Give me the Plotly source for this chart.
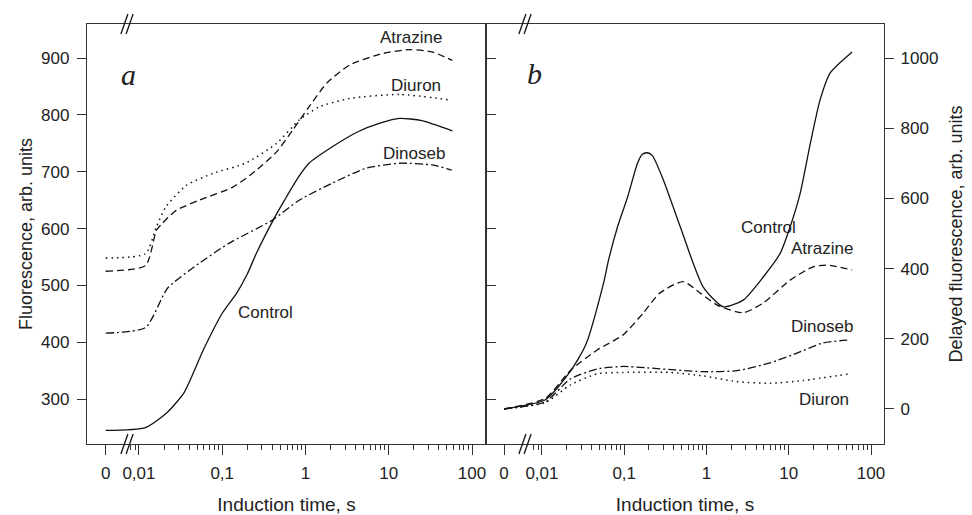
import plotly.graph_objects as go

# ---------------- data ----------------
# panel a: prompt fluorescence (t in s, 0 = start of illumination)
a_control_t = [0, 0.012, 0.022, 0.035, 0.06, 0.1, 0.15, 0.2, 0.26, 0.41, 0.56, 0.8, 1.1, 2.1, 4.2, 8, 13.5, 25, 58]
a_control_v = [245, 250, 277, 312, 388, 451, 487, 520, 558, 615, 650, 688, 715, 744, 770, 786, 794, 790, 772]
a_atrazine_t = [0, 0.012, 0.0162, 0.019, 0.028, 0.053, 0.134, 0.23, 0.45, 0.7, 1.1, 1.8, 3.4, 8.4, 17.6, 33, 58]
a_atrazine_v = [525, 535, 597, 609, 632, 650, 673, 697, 735, 773, 814, 856, 888, 908, 915, 911, 896]
a_diuron_t = [0, 0.012, 0.0162, 0.021, 0.037, 0.077, 0.19, 0.45, 0.84, 1.45, 3.4, 13.5, 57]
a_diuron_v = [548, 556, 603, 638, 676, 697, 715, 750, 791, 814, 829, 836, 826]
a_dinoseb_t = [0, 0.012, 0.022, 0.053, 0.12, 0.4, 0.84, 2.1, 5.3, 13.5, 33, 57]
a_dinoseb_v = [416, 426, 495, 539, 574, 615, 650, 680, 706, 715, 712, 703]

# panel b: delayed fluorescence
b_control_t = [0, 0.011, 0.022, 0.034, 0.056, 0.0645, 0.083, 0.11, 0.145, 0.165, 0.19, 0.22, 0.3, 0.48,
               0.91, 1.6, 2.8, 4.9, 7.9, 10.4, 13.8, 18.3, 24, 31.8, 59]
b_control_v = [0, 26, 106, 182, 358, 424, 519, 604, 700, 725, 730, 722, 652, 519,
               348, 291, 310, 376, 444, 519, 615, 757, 880, 957, 1017]
b_atrazine_t = [0, 0.011, 0.022, 0.047, 0.097, 0.17, 0.27, 0.52, 0.84, 1.35, 2.8, 4.9, 10.4, 19.8, 29, 59]
b_atrazine_v = [0, 30, 109, 168, 211, 273, 330, 363, 330, 296, 274, 302, 367, 405, 410, 396]
b_dinoseb_t = [0, 0.011, 0.022, 0.047, 0.097, 0.19, 0.91, 2.36, 5.9, 12.6, 26, 55.7]
b_dinoseb_v = [0, 20, 85, 114, 121, 117, 106, 109, 131, 159, 188, 197]
b_diuron_t = [0, 0.011, 0.022, 0.047, 0.097, 0.36, 0.91, 2.3, 5.9, 15, 55]
b_diuron_v = [0, 18, 68, 100, 104, 104, 94, 78, 73, 81, 100]

tick_text = ["0", "0,01", "0,1", "1", "10", "100"]
tick_vals = [0, 0.01, 0.1, 1, 10, 100]
minor_vals = [0.008, 0.009] + [m * 10 ** d for d in (-2, -1, 0, 1) for m in range(2, 10)]

# position of the "t = 0" point on the broken log axis (log10 units)
ZERO_A = -2.40
ZERO_B = -2.46


def place(ts, zero):
    return [10 ** zero if t == 0 else t for t in ts]


FONT = "Liberation Sans, Arial, sans-serif"
INK = "#222"
AX = "#333"

styles = {
    "Control": dict(color="#111", width=1.3),
    "Atrazine": dict(color="#111", width=1.3, dash="7px,4px"),
    "Diuron": dict(color="#111", width=1.5, dash="1.5px,4px"),
    "Dinoseb": dict(color="#111", width=1.3, dash="8px,3px,2px,3px"),
}

fig = go.Figure()
series_a = [("Control", a_control_t, a_control_v), ("Atrazine", a_atrazine_t, a_atrazine_v),
            ("Diuron", a_diuron_t, a_diuron_v), ("Dinoseb", a_dinoseb_t, a_dinoseb_v)]
series_b = [("Control", b_control_t, b_control_v), ("Atrazine", b_atrazine_t, b_atrazine_v),
            ("Diuron", b_diuron_t, b_diuron_v), ("Dinoseb", b_dinoseb_t, b_dinoseb_v)]

for name, t, v in series_a:
    fig.add_trace(go.Scatter(x=place(t, ZERO_A), y=v, mode="lines", name=name,
                             line=dict(shape="spline", smoothing=0.6, **styles[name]),
                             xaxis="x", yaxis="y", showlegend=False))
for name, t, v in series_b:
    fig.add_trace(go.Scatter(x=place(t, ZERO_B), y=v, mode="lines", name=name,
                             line=dict(shape="spline", smoothing=0.6, **styles[name]),
                             xaxis="x2", yaxis="y2", showlegend=False))

L, R, T, B = 87, 88, 24, 71
PW = 972 - L - R
split = (486 - L) / PW

common_x = dict(type="log", showline=True, linecolor=AX, linewidth=1.3, mirror=True,
                ticks="outside", ticklen=10, tickwidth=1.2, tickcolor=AX,
                tickmode="array", showgrid=False, zeroline=False, ticklabelstandoff=3,
                tickfont=dict(family=FONT, size=17, color=INK),
                title=dict(text="Induction time, s", font=dict(family=FONT, size=19, color=INK), standoff=20),
                minor=dict(tickmode="array", tickvals=minor_vals, ticks="outside", ticklen=5,
                           tickwidth=1.1, tickcolor=AX, showgrid=False))

fig.update_layout(
    width=972, height=515,
    margin=dict(l=L, r=R, t=T, b=B, autoexpand=False),
    paper_bgcolor="white", plot_bgcolor="white",
    xaxis=dict(domain=[0, split], range=[-2.624, 2.168], anchor="y",
               tickvals=[10 ** ZERO_A] + tick_vals[1:], ticktext=tick_text, **common_x),
    xaxis2=dict(domain=[split, 1], range=[-2.68, 2.158], anchor="y2",
                tickvals=[10 ** ZERO_B] + tick_vals[1:], ticktext=tick_text, **common_x),
    yaxis=dict(range=[221, 960], tickvals=[300, 400, 500, 600, 700, 800, 900],
               showline=True, linecolor=AX, linewidth=1.3, mirror="ticks",
               ticks="outside", ticklen=9, tickwidth=1.2, tickcolor=AX,
               showgrid=False, zeroline=False, anchor="x", ticklabelstandoff=4,
               tickfont=dict(family=FONT, size=17, color=INK),
               title=dict(text="Fluorescence, arb. units", font=dict(family=FONT, size=18, color=INK), standoff=3)),
    yaxis2=dict(range=[-100, 1097], tickvals=[0, 200, 400, 600, 800, 1000], side="right",
                showline=True, linecolor=AX, linewidth=1.3, mirror=True,
                ticks="outside", ticklen=9, tickwidth=1.2, tickcolor=AX,
                showgrid=False, zeroline=False, anchor="x2", ticklabelstandoff=3,
                tickfont=dict(family=FONT, size=17, color=INK),
                title=dict(text="Delayed fluorescence, arb. units", font=dict(family=FONT, size=18, color=INK), standoff=12)),
)

# curve labels
labels_a = [("Atrazine", 1.262, 937), ("Diuron", 1.322, 852), ("Dinoseb", 1.298, 733), ("Control", -0.479, 453)]
labels_b = [("Control", 0.75, 518), ("Atrazine", 1.406, 456), ("Dinoseb", 1.406, 236), ("Diuron", 1.43, 26)]
for txt, lx, ly in labels_a:
    fig.add_annotation(x=lx, y=ly, xref="x", yref="y", text=txt, showarrow=False,
                       font=dict(family=FONT, size=17, color=INK))
for txt, lx, ly in labels_b:
    fig.add_annotation(x=lx, y=ly, xref="x2", yref="y2", text=txt, showarrow=False,
                       font=dict(family=FONT, size=17, color=INK))

# panel letters
fig.add_annotation(x=-2.12, y=872, xref="x", yref="y", text="<i>a</i>", showarrow=False,
                   font=dict(family="Liberation Serif, Times New Roman, serif", size=30, color=INK))
fig.add_annotation(x=-2.094, y=957, xref="x2", yref="y2", text="<i>b</i>", showarrow=False,
                   font=dict(family="Liberation Serif, Times New Roman, serif", size=30, color=INK))

# axis-break marks "//" on top and bottom axis lines (pixel centres 127 and 525)
for px in (127, 525):
    for off in (-2.6, 2.6):
        for yc in (0.0, 1.0):
            fig.add_shape(type="line", xref="paper", yref="paper",
                          x0=(px + off - 3.5 - L) / PW, x1=(px + off + 3.5 - L) / PW,
                          y0=yc - 10 / 420, y1=yc + 10 / 420,
                          line=dict(color="#111", width=1.3))

fig.write_html("out.html", config={"displayModeBar": False},
               post_script="document.body.style.margin='0';document.body.style.overflow='hidden';")
